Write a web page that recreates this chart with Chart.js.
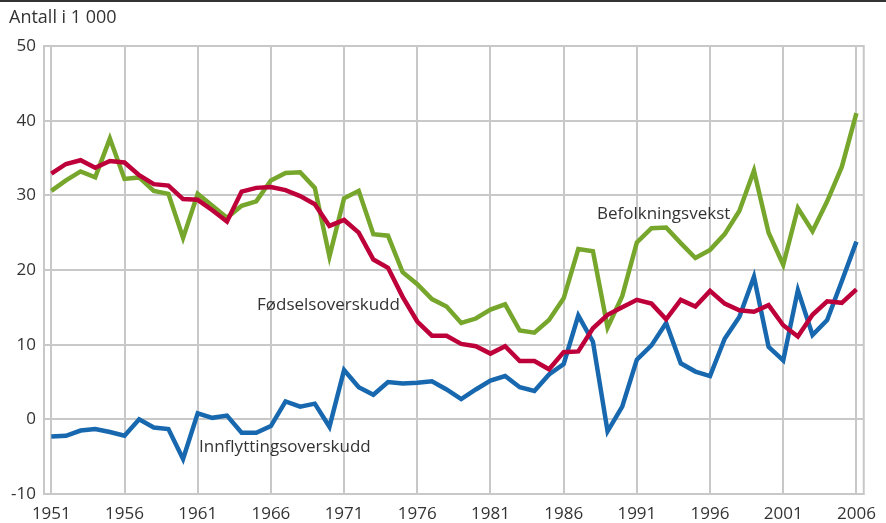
<!DOCTYPE html>
<html>
<head>
<meta charset="utf-8">
<script src="https://cdn.jsdelivr.net/npm/chart.js@4.4.1/dist/chart.umd.min.js"></script>
<style>
  html, body { margin: 0; padding: 0; background: #fff; }
  #wrap { width: 886px; height: 523px; position: relative; }
</style>
</head>
<body>
<div id="wrap"><canvas id="mycanvas" width="886" height="523"></canvas></div>
<script>
var years = [];
for (var y = 1951; y <= 2006; y++) years.push(String(y));

// Befolkningsvekst (green)
var befolkning = [30.6, 32.0, 33.2, 32.4, 37.6, 32.2, 32.4, 30.6, 30.2, 24.3,
                  30.2, 28.6, 27.0, 28.6, 29.2, 32.0, 33.0, 33.1, 31.0, 21.8,
                  29.6, 30.6, 24.8, 24.6, 19.7, 18.1, 16.1, 15.1, 12.9, 13.5,
                  14.7, 15.4, 11.9, 11.6, 13.3, 16.2, 22.8, 22.5, 12.3, 16.5,
                  23.7, 25.6, 25.7, 23.6, 21.6, 22.7, 24.8, 27.9, 33.3, 25.0,
                  20.7, 28.3, 25.2, 29.2, 33.8, 41.0];

// Fødselsoverskudd (red)
var fodsel = [32.9, 34.2, 34.7, 33.7, 34.6, 34.4, 32.7, 31.5, 31.3, 29.5,
              29.4, 28.0, 26.5, 30.5, 31.0, 31.1, 30.7, 29.9, 28.8, 25.9,
              26.7, 25.0, 21.4, 20.3, 16.4, 13.1, 11.2, 11.2, 10.1, 9.8,
              8.8, 9.8, 7.8, 7.8, 6.7, 9.0, 9.1, 12.2, 14.0, 15.0,
              16.0, 15.5, 13.4, 16.0, 15.1, 17.2, 15.5, 14.6, 14.4, 15.3,
              12.6, 11.1, 14.0, 15.8, 15.6, 17.4];

// Innflyttingsoverskudd (blue)
var innflytting = [-2.3, -2.2, -1.5, -1.3, -1.7, -2.2, 0.0, -1.1, -1.3, -5.3,
                   0.8, 0.2, 0.5, -1.8, -1.8, -0.9, 2.4, 1.7, 2.1, -1.0,
                   6.6, 4.3, 3.3, 5.0, 4.8, 4.9, 5.1, 4.0, 2.7, 4.0,
                   5.2, 5.8, 4.3, 3.8, 6.0, 7.4, 13.9, 10.4, -1.6, 1.7,
                   8.0, 9.9, 12.9, 7.5, 6.4, 5.8, 10.8, 13.7, 19.1, 9.7,
                   7.9, 17.3, 11.3, 13.3, 18.5, 23.8];

var yTicks = [-10, 0, 10, 20, 30, 40, 50];

var textColor = '#333333';
var gridColor = '#c8c8c8';
var fontFamily = '"Open Sans", "Noto Sans", sans-serif';

function isMajor(i) { return i % 5 === 0; }

var frame = {
    id: 'frame',
    afterDraw: function(chart) {
        var ctx = chart.ctx, a = chart.chartArea;
        ctx.save();
        // top rule
        ctx.fillStyle = '#333333';
        ctx.fillRect(0, 0, 886, 2);
        // plot border
        ctx.strokeStyle = gridColor;
        ctx.lineWidth = 2;
        ctx.strokeRect(a.left, a.top, a.right - a.left, a.bottom - a.top);
        // texts
        ctx.fillStyle = textColor;
        ctx.textBaseline = 'middle';
        ctx.textAlign = 'left';
        ctx.font = '18px ' + fontFamily;
        ctx.fillText('Antall i 1 000', 9, 18);
        ctx.font = '17px ' + fontFamily;
        ctx.fillText('Befolkningsvekst', 597, 214);
        ctx.fillText('Fødselsoverskudd', 257, 305);
        ctx.fillText('Innflyttingsoverskudd', 199, 447);
        ctx.restore();
    }
};

var ctx = document.getElementById('mycanvas');

var chart = new Chart(ctx, {
    type: 'line',
    data: {
        labels: years,
        datasets: [
            { label: 'Fødselsoverskudd', data: fodsel, borderColor: '#be003a' },
            { label: 'Innflyttingsoverskudd', data: innflytting, borderColor: '#1768ae' },
            { label: 'Befolkningsvekst', data: befolkning, borderColor: '#77a62d' }
        ]
    },
    options: {
        responsive: false,
        animation: false,
        devicePixelRatio: 1,
        layout: { padding: { top: 46, right: 15, left: 0, bottom: 0 } },
        elements: {
            point: { radius: 0 },
            line: { borderWidth: 4.5, tension: 0, fill: false }
        },
        plugins: {
            legend: { display: false },
            tooltip: { enabled: false }
        },
        scales: {
            x: {
                offset: true,
                grid: {
                    offset: false,
                    drawTicks: false,
                    lineWidth: 2,
                    color: function(c) { return isMajor(c.index) ? gridColor : 'rgba(0,0,0,0)'; }
                },
                border: { display: false },
                ticks: {
                    autoSkip: false,
                    maxRotation: 0,
                    padding: 10,
                    color: textColor,
                    font: { size: 17, family: fontFamily },
                    callback: function(v, i) { return isMajor(i) ? years[i] : ''; }
                },
                afterFit: function(s) { s.height = 29; }
            },
            y: {
                min: -10,
                max: 50,
                afterBuildTicks: function(s) { s.ticks = yTicks.map(function(v) { return { value: v }; }); },
                grid: { drawTicks: false, lineWidth: 2, color: gridColor },
                border: { display: false },
                ticks: {
                    padding: 8,
                    color: textColor,
                    font: { size: 17, family: fontFamily }
                },
                afterFit: function(s) { s.width = 44; }
            }
        }
    },
    plugins: [frame]
});
</script>
</body>
</html>
